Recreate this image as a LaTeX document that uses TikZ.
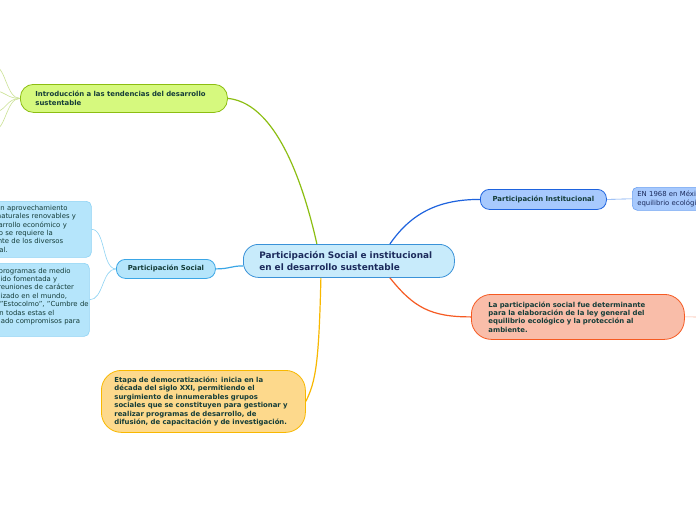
\documentclass[tikz,border=0pt]{standalone}
\usepackage{fontspec}
\setmainfont{DejaVu Sans}
\definecolor{mm-root}{HTML}{C8EBFB}
\definecolor{mm-rootline}{HTML}{3A92D8}
\definecolor{mm-roottext}{HTML}{1C2B5C}
\definecolor{mm-green}{HTML}{D6F97E}
\definecolor{mm-greenline}{HTML}{8CBE12}
\definecolor{mm-sky}{HTML}{B5E5FB}
\definecolor{mm-skyline}{HTML}{3AA6E6}
\definecolor{mm-skythin}{HTML}{8ED3F4}
\definecolor{mm-blue}{HTML}{A7C9FD}
\definecolor{mm-blueline}{HTML}{1E63DE}
\definecolor{mm-bluethin}{HTML}{6FA3F2}
\definecolor{mm-orange}{HTML}{F9BDA9}
\definecolor{mm-orangeline}{HTML}{F65A22}
\definecolor{mm-yellow}{HTML}{FDD98C}
\definecolor{mm-yellowline}{HTML}{F8B800}
\definecolor{mm-text}{HTML}{143C38}

\begin{document}
\begin{tikzpicture}[x=1pt, y=-1pt,
    box/.style={draw, line width=0.8pt, anchor=north west, inner ysep=0pt, align=left,
      text=mm-text, font=\fontsize{6.9}{8.4}\selectfont\bfseries},
    smallbox/.style={box, font=\fontsize{6.9}{8.4}\selectfont, rounded corners=5pt, line width=0.6pt}]
    \clip (0,0) rectangle (696,520);
    \fill[white] (0,0) rectangle (696,520);
    % central topic
    \node[box, fill=mm-root, draw=mm-rootline, text=mm-roottext, rounded corners=15pt,
      minimum width=211, minimum height=33, inner xsep=16, text width=179,
      font=\fontsize{8.9}{12}\selectfont\bfseries] (central) at (243,244)
      {Participación Social e institucional\\en el desarrollo sustentable};
    % main topics
    \node[box, fill=mm-green, draw=mm-greenline, rounded corners=13pt,
      minimum width=207, minimum height=28, inner xsep=15, text width=177] (intro) at (20,84)
      {Introducción a las tendencias del desarrollo\\sustentable};
    \node[box, fill=mm-sky, draw=mm-skyline, rounded corners=9pt, align=center,
      minimum width=99, minimum height=19, inner xsep=4, text width=91] (social) at (116,259)
      {Participación Social};
    \node[box, fill=mm-blue, draw=mm-blueline, rounded corners=9pt, align=center,
      minimum width=126, minimum height=20, inner xsep=4, text width=118] (inst) at (480,189)
      {Participación Institucional};
    \node[box, fill=mm-orange, draw=mm-orangeline, rounded corners=20pt,
      minimum width=213, minimum height=45, inner xsep=17, text width=179] (ley) at (471,294)
      {La participación social fue determinante\\para la elaboración de la ley general del\\equilibrio ecológico y la protección al\\ambiente.};
    \node[box, fill=mm-yellow, draw=mm-yellowline, rounded corners=20pt,
      minimum width=204, minimum height=62, inner xsep=13, text width=178] (etapa) at (101,370)
      {Etapa de democratización: inicia en la\\década del siglo XXI, permitiendo el\\surgimiento de innumerables grupos\\sociales que se constituyen para gestionar y\\realizar programas de desarrollo, de\\difusión, de capacitación y de investigación.};
    % subtopics
    \node[smallbox, fill=mm-sky, draw=mm-skythin, minimum width=153, minimum height=56,
      inner xsep=4, text width=145] (recursos) at (-62,201)
      {Para que se dé un aprovechamiento\\de los recursos naturales renovables y\\de un mejor desarrollo económico y\\social equilibrado se requiere la\\acción permanente de los diversos\\grupos en general.};
    \node[smallbox, fill=mm-sky, draw=mm-skythin, minimum width=151, minimum height=73,
      inner xsep=2, text width=147] (reuniones) at (-62,263)
      {La aplicación de programas de medio\\ambiente ya ha sido fomentada y\\apoyada por las reuniones de carácter\\internacional realizado en el mundo,\\\mbox{eventos como la "Estocolmo", "Cumbre de}\\la Tierra", y así en todas estas el\\cada país ha signado compromisos para\\su cuidado.};
    \node[smallbox, fill=mm-blue, draw=mm-bluethin, minimum width=180, minimum height=23,
      inner xsep=5, text width=170, text=mm-roottext] (mexico) at (632,187)
      {EN 1968 en México se expidió la ley del\\equilibrio ecológico.};
    % loose ends
    \coordinate (f1) at (-6,66);
    \coordinate (f2) at (-6,91);
    \coordinate (f3) at (-6,112);
    \coordinate (f4) at (-6,130);
    \coordinate (out) at (705,317);
    % connectors
    \draw[mm-greenline, line width=1.2pt] (intro.east) .. controls +(42,4) and +(-18,-80) .. ([xshift=-32pt]central.north);
    \draw[mm-skyline, line width=1.2pt] (social.east) .. controls +(14,0) and +(-12,0) .. ([yshift=-5pt]central.west);
    \draw[mm-blueline, line width=1.2pt] ([xshift=41pt]central.north) .. controls +(22,-32) and +(-40,0) .. (inst.west);
    \draw[mm-orangeline, line width=1.2pt] ([xshift=41pt]central.south) .. controls +(24,30) and +(-40,0) .. (ley.west);
    \draw[mm-yellowline, line width=1.2pt] ([xshift=-28pt]central.south) .. controls +(-2,85) and +(10,-20) .. (etapa.east);
    \foreach \f in {f1,f2,f3,f4}
      \draw[mm-greenline!45, line width=0.6pt] (intro.west) .. controls +(-14,0) and +(12,0) .. (\f);
    \draw[mm-skythin, line width=0.6pt] (social.west) .. controls +(-14,0) and +(14,0) .. (recursos.east);
    \draw[mm-skythin, line width=0.6pt] (social.west) .. controls +(-14,0) and +(14,0) .. (reuniones.east);
    \draw[mm-bluethin, line width=0.6pt] (inst.east) -- (mexico.west);
    \draw[mm-orangeline!45, line width=0.6pt] (ley.east) -- (out);
\end{tikzpicture}
\end{document}
